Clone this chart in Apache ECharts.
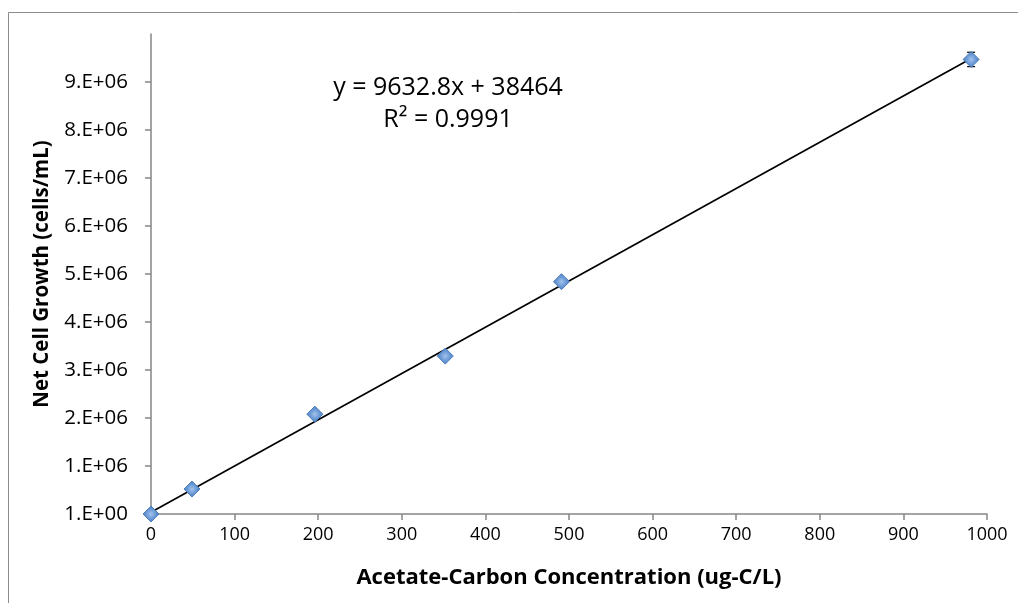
<!DOCTYPE html>
<html>
<head>
<meta charset="utf-8">
<script src="https://cdn.jsdelivr.net/npm/echarts@6/dist/echarts.min.js"></script>
<style>
html,body{margin:0;padding:0;background:#fff;}
#chart{width:1018px;height:603px;}
</style>
</head>
<body>
<div id="chart"></div>
<script>
// Data
const concentration = [0, 49, 196, 352, 491, 981];            // ug-C/L
const cellGrowth    = [1, 0.52e6, 2.08e6, 3.29e6, 4.84e6, 9.47e6]; // cells/mL
const errors        = [0, 30000, 60000, 60000, 40000, 150000];
const trendX        = [0, 981];
const trendY        = [38464, 9.49e6];
const xTicks        = [0, 100, 200, 300, 400, 500, 600, 700, 800, 900, 1000];
const yTickValues   = [0, 1e6, 2e6, 3e6, 4e6, 5e6, 6e6, 7e6, 8e6, 9e6];
const yTickLabels   = ['1.E+00','1.E+06','2.E+06','3.E+06','4.E+06','5.E+06','6.E+06','7.E+06','8.E+06','9.E+06'];
const equationText  = 'y = 9632.8x + 38464';
const r2Text        = 'R² = 0.9991';

const chart = echarts.init(document.getElementById('chart'), null, {renderer: 'canvas'});
const axisGray = '#868686';
const font = '"Open Sans", "Liberation Sans", Arial, sans-serif';

const points = concentration.map((x, i) => [x, cellGrowth[i]]);
const errData = concentration.map((x, i) => [x, cellGrowth[i] - errors[i], cellGrowth[i] + errors[i]]);
const trend = trendX.map((x, i) => [x, trendY[i]]);

chart.setOption({
  animation: false,
  backgroundColor: '#ffffff',
  grid: {left: 151, right: 31, top: 34, bottom: 89, containLabel: false},
  xAxis: {
    type: 'value', min: xTicks[0], max: xTicks[xTicks.length - 1], interval: 100,
    name: 'Acetate-Carbon Concentration (ug-C/L)',
    nameLocation: 'middle', nameGap: 53,
    nameTextStyle: {fontFamily: font, fontWeight: 'bold', fontSize: 22, color: '#000'},
    axisLine: {show: true, lineStyle: {color: axisGray, width: 1.5}},
    axisTick: {show: true, inside: false, length: 6, lineStyle: {color: axisGray, width: 1.5}},
    axisLabel: {fontFamily: font, fontSize: 18, color: '#000', margin: 12,
                formatter: v => String(v)},
    splitLine: {show: false}
  },
  yAxis: {
    type: 'value', min: 0, max: 1e7, interval: 1e6,
    name: 'Net Cell Growth (cells/mL)',
    nameLocation: 'middle', nameGap: 98,
    nameTextStyle: {fontFamily: font, fontWeight: 'bold', fontSize: 20.5, color: '#000'},
    axisLine: {show: true, lineStyle: {color: axisGray, width: 1.5}},
    axisTick: {show: true, inside: false, length: 6, lineStyle: {color: axisGray, width: 1.5},
               customValues: yTickValues},
    axisLabel: {fontFamily: font, fontSize: 20.5, color: '#000', margin: 23,
                customValues: yTickValues,
                formatter: v => { const i = yTickValues.indexOf(v); return i >= 0 ? yTickLabels[i] : ''; }},
    splitLine: {show: false}
  },
  series: [
    {
      type: 'line', data: trend, symbol: 'none', silent: true, z: 3,
      lineStyle: {color: '#000', width: 1.7}
    },
    {
      type: 'custom', z: 4, data: errData,
      renderItem: function (params, api) {
        const x = api.coord([api.value(0), 0])[0];
        const lo = api.coord([api.value(0), api.value(1)])[1];
        const hi = api.coord([api.value(0), api.value(2)])[1];
        const w = 4;
        const st = {stroke: '#000', lineWidth: 1.2};
        return {type: 'group', children: [
          {type: 'line', shape: {x1: x, y1: lo, x2: x, y2: hi}, style: st},
          {type: 'line', shape: {x1: x - w, y1: lo, x2: x + w, y2: lo}, style: st},
          {type: 'line', shape: {x1: x - w, y1: hi, x2: x + w, y2: hi}, style: st}
        ]};
      }
    },
    {
      type: 'scatter', data: points, z: 5,
      symbol: 'path://M0,-1L1,0L0,1L-1,0Z', symbolSize: 16,
      itemStyle: {
        opacity: 1,
        color: new echarts.graphic.RadialGradient(0.5, 0.5, 0.6, [
          {offset: 0, color: '#A4C3EC'}, {offset: 0.45, color: '#6C9AD6'}, {offset: 1, color: '#3D71B6'}
        ]),
        borderColor: '#4A7EBB', borderWidth: 1
      }
    }
  ],
  graphic: [
    {type: 'rect', silent: true, z: -10,
     shape: {x: 8.5, y: 12.5, width: 1100, height: 700},
     style: {fill: 'none', stroke: '#8c8c8c', lineWidth: 1}},
    {type: 'text', x: 448, y: 88, silent: true,
     style: {text: equationText, fontFamily: font, fontSize: 25, fill: '#000', align: 'center', verticalAlign: 'middle'}},
    {type: 'text', x: 448, y: 120, silent: true,
     style: {text: r2Text, fontFamily: font, fontSize: 25, fill: '#000', align: 'center', verticalAlign: 'middle'}}
  ]
});
</script>
</body>
</html>
